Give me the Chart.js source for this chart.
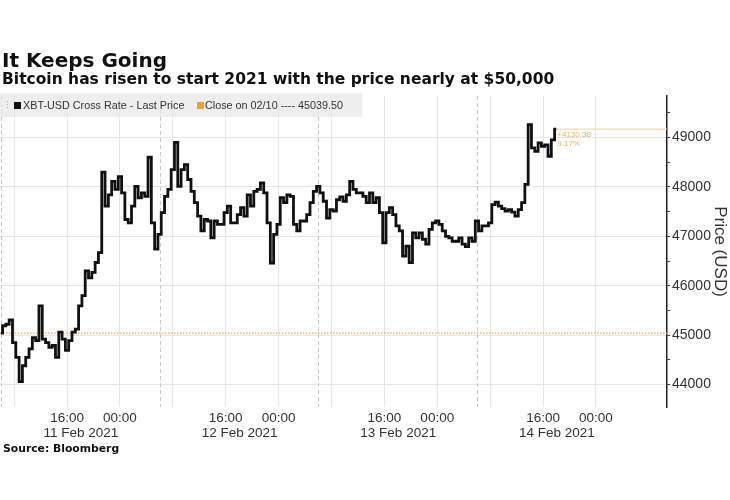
<!DOCTYPE html>
<html>
<head>
<meta charset="utf-8">
<script src="https://cdn.jsdelivr.net/npm/chart.js@4.4.1/dist/chart.umd.min.js"></script>
<style>
  body { margin: 0; background: #fff; }
  #wrap { position: relative; width: 730px; height: 500px; overflow: hidden; }
  #chart { position: absolute; left: 0; top: 0; }
  .txt { position: absolute; white-space: nowrap; color: #111; z-index: 2; }
  #title { left: 2px; top: 50px; font: bold 20px 'DejaVu Sans'; line-height: 20px; }
  #subtitle { left: 2px; top: 72px; font: bold 15.5px 'DejaVu Sans'; line-height: 15.5px; }
  #source { left: 3px; top: 443px; font: bold 10.8px 'DejaVu Sans'; line-height: 11px; }
  #legend { position: absolute; left: 0; top: 93px; width: 362px; height: 24px; background: rgba(232,232,232,0.75); z-index: 2;
            font: 10.8px 'Liberation Sans'; color: #333; line-height: 24px; white-space: nowrap; }
  #legend .grip { position: absolute; left: 3px; top: 0; color: #aaa; font-size: 9px; }
  #legend .sq { position: absolute; top: 9px; width: 7px; height: 7px; }
  #legend .lab { position: absolute; top: 0; }
</style>
</head>
<body>
<div id="wrap">
  <canvas id="chart" width="730" height="500"></canvas>
  <div class="txt" id="title">It Keeps Going</div>
  <div class="txt" id="subtitle">Bitcoin has risen to start 2021 with the price nearly at $50,000</div>
  <div id="legend">
    <span class="grip">&#8942;</span>
    <span class="sq" style="left:14px;background:#111"></span>
    <span class="lab" style="left:23px">XBT-USD Cross Rate - Last Price</span>
    <span class="sq" style="left:197px;background:#f2a033"></span>
    <span class="lab" style="left:205px" id="closeLabel"></span>
  </div>
  <div class="txt" id="source">Source: Bloomberg</div>
</div>
<script>
// half-hourly last price, starting 11 Feb 2021 06:00
const startHour = 6;
const stepHours = 0.5;
const prices = [
  45040, 45190, 45220, 45310, 44850, 44550, 44060, 44380, 44550, 44720,
  44950, 44890, 45590, 44920, 44850, 44750, 44790, 44550, 45060, 44920,
  44690, 44890, 45060, 45120, 45590, 45800, 46300, 46160, 46270, 46470,
  46670, 48300, 47610, 47840, 48110, 47950, 48210, 47880, 47340, 47270,
  47610, 48010, 47780, 47880, 47810, 48600, 47270, 46740, 47040, 47480,
  47810, 47950, 48350, 48900, 48010, 48350, 48450, 48150, 47910, 47680,
  47410, 47110, 47340, 47310, 46970, 47310, 47240, 47240, 47480, 47610,
  47270, 47270, 47440, 47580, 47410, 47840, 47610, 47910, 47950, 48080,
  47880, 47270, 46460, 47040, 47240, 47780, 47680, 47840, 47810, 47240,
  47110, 47310, 47310, 47440, 47680, 47910, 48010, 47880, 47710, 47370,
  47540, 47510, 47740, 47800, 47710, 47840, 48110, 47950, 47880, 47880,
  47810, 47680, 47880, 47680, 47780, 47480, 46870, 47480, 47580, 47440,
  47210, 47110, 46600, 46800, 46470, 47070, 46970, 47070, 46940, 46840,
  47140, 47270, 47310, 47240, 47110, 47000, 46970, 46900, 46900, 46970,
  46840, 46790, 46970, 46900, 47310, 47110, 47210, 47210, 47270, 47640,
  47690, 47610, 47560, 47510, 47540, 47490, 47410, 47540, 47680, 48050,
  49260, 48790, 48720, 48890, 48820, 48850, 48620, 48950, 49169.88
];
const priorClose = 45039.50;

// x axis, hours from 11 Feb 2021 00:00
const xMin = 5.86;
const xMax = 106.75;
const tickHours = [8, 16, 24, 32, 40, 48, 56, 64, 72, 80, 88, 96];
const tickLabels = ['', '16:00', '00:00', '', '16:00', '00:00', '', '16:00', '00:00', '', '16:00', '00:00'];
const dayLabels = ['11 Feb 2021', '12 Feb 2021', '13 Feb 2021', '14 Feb 2021'];
const dayLabelHours = [18.1, 42.1, 66.1, 90.1];
const sessionHours = [6, 30, 54, 78];

// y axis
const yMin = 43545;
const yMax = 49840;
const yTicks = [44000, 44500, 45000, 45500, 46000, 46500, 47000, 47500, 48000, 48500, 49000, 49500];

const priceSeries = prices.map((p, i) => ({ x: startHour + i * stepHours, y: p }));
const lastHour = startHour + (prices.length - 1) * stepHours;
const lastPrice = prices[prices.length - 1];
const change = lastPrice - priorClose;
const changePct = change / priorClose * 100;

document.getElementById('closeLabel').textContent = 'Close on 02/10 ---- ' + priorClose.toFixed(2);

const overlay = {
    id: 'overlay',
    beforeDatasetsDraw(chart) {
        const { ctx, chartArea, scales: { x } } = chart;
        ctx.save();
        ctx.strokeStyle = '#c8c8c8';
        ctx.lineWidth = 1;
        ctx.setLineDash([4, 3]);
        sessionHours.forEach(h => {
            const px = Math.round(x.getPixelForValue(h)) + 0.5;
            ctx.beginPath();
            ctx.moveTo(px, chartArea.top);
            ctx.lineTo(px, chartArea.bottom);
            ctx.stroke();
        });
        ctx.restore();
    },
    afterDraw(chart) {
        const { ctx, chartArea, scales: { x, y } } = chart;
        ctx.save();
        ctx.font = '13.5px "Liberation Sans"';
        ctx.fillStyle = '#333';
        ctx.textAlign = 'center';
        ctx.textBaseline = 'middle';
        dayLabels.forEach((t, i) => {
            ctx.fillText(t, x.getPixelForValue(dayLabelHours[i]), chartArea.bottom + 26);
        });

        const lx = x.getPixelForValue(lastHour);
        const ly = y.getPixelForValue(lastPrice);
        ctx.font = '8px "Liberation Sans"';
        ctx.fillStyle = '#eab25e';
        ctx.textAlign = 'left';
        ctx.fillText('+' + change.toFixed(2), lx + 1, ly + 6);
        ctx.fillText(changePct.toFixed(2) + '%', lx + 1, ly + 15);
        ctx.restore();
    }
};

const axisFont = { family: 'Liberation Sans', size: 14 };

new Chart(document.getElementById('chart'), {
    type: 'line',
    data: {
        datasets: [
            {
                label: 'XBT-USD Cross Rate - Last Price',
                data: priceSeries,
                borderColor: '#111',
                borderWidth: 2.8,
                pointRadius: 0,
                stepped: 'middle',
                order: 1
            },
            {
                label: 'Close on 02/10',
                data: [{ x: xMin, y: priorClose }, { x: xMax, y: priorClose }],
                borderColor: '#f2a54a',
                borderWidth: 1.2,
                borderDash: [1.5, 1.5],
                pointRadius: 0,
                order: 2
            },
            {
                label: 'Last',
                data: [{ x: lastHour, y: lastPrice }, { x: xMax, y: lastPrice }],
                borderColor: '#f6cf96',
                borderWidth: 1,
                pointRadius: 0,
                order: 3
            }
        ]
    },
    options: {
        responsive: false,
        animation: false,
        devicePixelRatio: 1,
        layout: { padding: { top: 96, left: 0, right: 0, bottom: 0 } },
        plugins: { legend: { display: false }, tooltip: { enabled: false } },
        scales: {
            x: {
                type: 'linear',
                min: xMin,
                max: xMax,
                afterFit: s => { s.height = 93; },
                afterBuildTicks: s => { s.ticks = tickHours.map(v => ({ value: v })); },
                ticks: {
                    autoSkip: false,
                    maxRotation: 0,
                    padding: 3,
                    color: '#333',
                    font: { family: 'Liberation Sans', size: 13.5 },
                    callback: v => tickLabels[tickHours.indexOf(v)] || ''
                },
                grid: { color: '#e6e6e6', drawTicks: false },
                border: { display: false }
            },
            y: {
                position: 'right',
                min: yMin,
                max: yMax,
                afterFit: s => { s.width = 63; },
                afterBuildTicks: s => { s.ticks = yTicks.map(v => ({ value: v })); },
                ticks: {
                    padding: 2,
                    color: '#333',
                    font: axisFont,
                    callback: v => v % 1000 === 0 ? String(v) : ''
                },
                grid: {
                    color: c => (c.tick && c.tick.value % 1000 === 0) ? '#e6e6e6' : 'rgba(0,0,0,0)',
                    tickColor: '#333',
                    tickLength: 3
                },
                border: { display: true, color: '#222', width: 1.5 },
                title: {
                    display: true,
                    text: 'Price (USD)',
                    color: '#333',
                    font: { family: 'Liberation Sans', size: 17 },
                    padding: 0
                }
            }
        }
    },
    plugins: [overlay]
});
</script>
</body>
</html>
